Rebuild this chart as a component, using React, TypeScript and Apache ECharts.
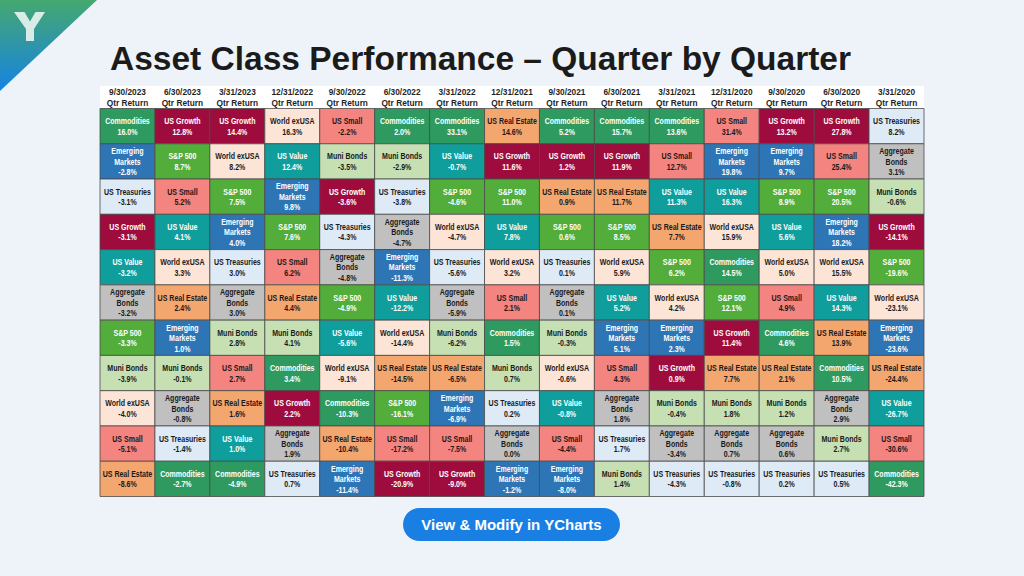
import React, { useEffect, useRef } from "react";
import * as echarts from "echarts";

// ---------- DATA ----------
const quarters = [
  "9/30/2023", "6/30/2023", "3/31/2023", "12/31/2022", "9/30/2022",
  "6/30/2022", "3/31/2022", "12/31/2021", "9/30/2021", "6/30/2021",
  "3/31/2021", "12/31/2020", "9/30/2020", "6/30/2020", "3/31/2020",
];
const ranks = ["1", "2", "3", "4", "5", "6", "7", "8", "9", "10", "11"];

const names_2023_09 = ["Commodities", "Emerging Markets", "US Treasuries", "US Growth", "US Value", "Aggregate Bonds", "S&P 500", "Muni Bonds", "World exUSA", "US Small", "US Real Estate"];
const returns_2023_09 = [16.0, -2.8, -3.1, -3.1, -3.2, -3.2, -3.3, -3.9, -4.0, -5.1, -8.6];

const names_2023_06 = ["US Growth", "S&P 500", "US Small", "US Value", "World exUSA", "US Real Estate", "Emerging Markets", "Muni Bonds", "Aggregate Bonds", "US Treasuries", "Commodities"];
const returns_2023_06 = [12.8, 8.7, 5.2, 4.1, 3.3, 2.4, 1.0, -0.1, -0.8, -1.4, -2.7];

const names_2023_03 = ["US Growth", "World exUSA", "S&P 500", "Emerging Markets", "US Treasuries", "Aggregate Bonds", "Muni Bonds", "US Small", "US Real Estate", "US Value", "Commodities"];
const returns_2023_03 = [14.4, 8.2, 7.5, 4.0, 3.0, 3.0, 2.8, 2.7, 1.6, 1.0, -4.9];

const names_2022_12 = ["World exUSA", "US Value", "Emerging Markets", "S&P 500", "US Small", "US Real Estate", "Muni Bonds", "Commodities", "US Growth", "Aggregate Bonds", "US Treasuries"];
const returns_2022_12 = [16.3, 12.4, 9.8, 7.6, 6.2, 4.4, 4.1, 3.4, 2.2, 1.9, 0.7];

const names_2022_09 = ["US Small", "Muni Bonds", "US Growth", "US Treasuries", "Aggregate Bonds", "S&P 500", "US Value", "World exUSA", "Commodities", "US Real Estate", "Emerging Markets"];
const returns_2022_09 = [-2.2, -3.5, -3.6, -4.3, -4.8, -4.9, -5.6, -9.1, -10.3, -10.4, -11.4];

const names_2022_06 = ["Commodities", "Muni Bonds", "US Treasuries", "Aggregate Bonds", "Emerging Markets", "US Value", "World exUSA", "US Real Estate", "S&P 500", "US Small", "US Growth"];
const returns_2022_06 = [2.0, -2.9, -3.8, -4.7, -11.3, -12.2, -14.4, -14.5, -16.1, -17.2, -20.9];

const names_2022_03 = ["Commodities", "US Value", "S&P 500", "World exUSA", "US Treasuries", "Aggregate Bonds", "Muni Bonds", "US Real Estate", "Emerging Markets", "US Small", "US Growth"];
const returns_2022_03 = [33.1, -0.7, -4.6, -4.7, -5.6, -5.9, -6.2, -6.5, -6.9, -7.5, -9.0];

const names_2021_12 = ["US Real Estate", "US Growth", "S&P 500", "US Value", "World exUSA", "US Small", "Commodities", "Muni Bonds", "US Treasuries", "Aggregate Bonds", "Emerging Markets"];
const returns_2021_12 = [14.6, 11.6, 11.0, 7.8, 3.2, 2.1, 1.5, 0.7, 0.2, 0.0, -1.2];

const names_2021_09 = ["Commodities", "US Growth", "US Real Estate", "S&P 500", "US Treasuries", "Aggregate Bonds", "Muni Bonds", "World exUSA", "US Value", "US Small", "Emerging Markets"];
const returns_2021_09 = [5.2, 1.2, 0.9, 0.6, 0.1, 0.1, -0.3, -0.6, -0.8, -4.4, -8.0];

const names_2021_06 = ["Commodities", "US Growth", "US Real Estate", "S&P 500", "World exUSA", "US Value", "Emerging Markets", "US Small", "Aggregate Bonds", "US Treasuries", "Muni Bonds"];
const returns_2021_06 = [15.7, 11.9, 11.7, 8.5, 5.9, 5.2, 5.1, 4.3, 1.8, 1.7, 1.4];

const names_2021_03 = ["Commodities", "US Small", "US Value", "US Real Estate", "S&P 500", "World exUSA", "Emerging Markets", "US Growth", "Muni Bonds", "Aggregate Bonds", "US Treasuries"];
const returns_2021_03 = [13.6, 12.7, 11.3, 7.7, 6.2, 4.2, 2.3, 0.9, -0.4, -3.4, -4.3];

const names_2020_12 = ["US Small", "Emerging Markets", "US Value", "World exUSA", "Commodities", "S&P 500", "US Growth", "US Real Estate", "Muni Bonds", "Aggregate Bonds", "US Treasuries"];
const returns_2020_12 = [31.4, 19.8, 16.3, 15.9, 14.5, 12.1, 11.4, 7.7, 1.8, 0.7, -0.8];

const names_2020_09 = ["US Growth", "Emerging Markets", "S&P 500", "US Value", "World exUSA", "US Small", "Commodities", "US Real Estate", "Muni Bonds", "Aggregate Bonds", "US Treasuries"];
const returns_2020_09 = [13.2, 9.7, 8.9, 5.6, 5.0, 4.9, 4.6, 2.1, 1.2, 0.6, 0.2];

const names_2020_06 = ["US Growth", "US Small", "S&P 500", "Emerging Markets", "World exUSA", "US Value", "US Real Estate", "Commodities", "Aggregate Bonds", "Muni Bonds", "US Treasuries"];
const returns_2020_06 = [27.8, 25.4, 20.5, 18.2, 15.5, 14.3, 13.9, 10.5, 2.9, 2.7, 0.5];

const names_2020_03 = ["US Treasuries", "Aggregate Bonds", "Muni Bonds", "US Growth", "S&P 500", "World exUSA", "Emerging Markets", "US Real Estate", "US Value", "US Small", "Commodities"];
const returns_2020_03 = [8.2, 3.1, -0.6, -14.1, -19.6, -23.1, -23.6, -24.4, -26.7, -30.6, -42.3];

const columnNames = [
  names_2023_09, names_2023_06, names_2023_03, names_2022_12, names_2022_09,
  names_2022_06, names_2022_03, names_2021_12, names_2021_09, names_2021_06,
  names_2021_03, names_2020_12, names_2020_09, names_2020_06, names_2020_03,
];
const columnReturns = [
  returns_2023_09, returns_2023_06, returns_2023_03, returns_2022_12, returns_2022_09,
  returns_2022_06, returns_2022_03, returns_2021_12, returns_2021_09, returns_2021_06,
  returns_2021_03, returns_2020_12, returns_2020_09, returns_2020_06, returns_2020_03,
];

// ---------- STYLE ----------
const assetFill: Record<string, string> = {
  "Commodities": "#2f9a5f",
  "US Growth": "#9e0b3d",
  "US Small": "#f4847f",
  "World exUSA": "#fce4d6",
  "Emerging Markets": "#2e75b6",
  "S&P 500": "#52ad3b",
  "US Value": "#0f9e9b",
  "Muni Bonds": "#c6e0b4",
  "US Treasuries": "#deebf7",
  "Aggregate Bonds": "#c0c0c0",
  "US Real Estate": "#f4a66f",
};
const lightText = new Set(["Commodities", "US Growth", "Emerging Markets", "S&P 500", "US Value"]);
const displayName: Record<string, string> = {
  "Emerging Markets": "Emerging\nMarkets",
  "Aggregate Bonds": "Aggregate\nBonds",
};
const SANS = "'Liberation Sans',Arial,sans-serif";

export default function App() {
  const ref = useRef<HTMLDivElement>(null);

  useEffect(() => {
    if (!ref.current) return;
    const chart = echarts.init(ref.current, null, { renderer: "svg" });

    const cells: { x: number; y: number; name: string; ret: number }[] = [];
    columnNames.forEach((col, ci) => {
      col.forEach((name, ri) => {
        cells.push({ x: ci, y: ri, name, ret: columnReturns[ci][ri] });
      });
    });

    const option: any = {
      animation: false,
      backgroundColor: "#eef3fa",
      grid: { left: 100, top: 108.5, width: 824, height: 388 },
      xAxis: {
        type: "category",
        data: quarters,
        position: "top",
        axisLine: { show: false },
        axisTick: { show: false },
        splitLine: { show: false },
        axisLabel: {
          interval: 0,
          margin: 0.5,
          formatter: (v: string) => `${v}\nQtr Return`,
          fontSize: 8.3,
          fontWeight: "bold",
          fontFamily: SANS,
          color: "#1f1f1f",
          lineHeight: 11,
        },
      },
      yAxis: {
        type: "category",
        data: ranks,
        inverse: true,
        show: false,
      },
      series: [
        {
          type: "custom",
          data: cells.map((c) => [c.x, c.y]),
          renderItem: (params: any, api: any) => {
            const cell = cells[params.dataIndex];
            const p = api.coord([api.value(0), api.value(1)]);
            const s = api.size([1, 1]);
            const fill = assetFill[cell.name];
            const txt = lightText.has(cell.name) ? "#ffffff" : "#1a1a1a";
            const label = `${displayName[cell.name] || cell.name}\n${cell.ret.toFixed(1)}%`;
            return {
              type: "group",
              children: [
                {
                  type: "rect",
                  shape: { x: p[0] - s[0] / 2, y: p[1] - s[1] / 2, width: s[0], height: s[1] },
                  style: { fill, stroke: "#4a4a4a", lineWidth: 0.8 },
                },
                {
                  type: "text",
                  x: p[0],
                  y: p[1] + 0.5,
                  scaleX: 0.8,
                  style: {
                    text: label,
                    fill: txt,
                    fontSize: 8.8,
                    fontWeight: "bold",
                    fontFamily: SANS,
                    align: "center",
                    verticalAlign: "middle",
                    lineHeight: 10.5,
                  },
                },
              ],
            };
          },
        },
      ],
      graphic: [
        {
          type: "polygon",
          z: -1,
          shape: { points: [[0, 0], [97, 0], [0, 91]] },
          style: {
            fill: {
              type: "linear", x: 0, y: 0, x2: 0, y2: 1,
              colorStops: [
                { offset: 0, color: "#45a86f" },
                { offset: 1, color: "#1683e3" },
              ],
            },
          },
        },
        {
          type: "polygon",
          shape: {
            points: [[14, 12], [24.5, 12], [30, 21.5], [35.5, 12], [45, 12], [34, 29], [34, 41], [26, 41], [26, 29]],
          },
          style: { fill: "#eaf4f1", opacity: 0.9 },
        },
        {
          type: "text",
          left: 110,
          top: 41,
          style: {
            text: "Asset Class Performance \u2013 Quarter by Quarter",
            fontSize: 33.5,
            fontWeight: "bold",
            fontFamily: SANS,
            fill: "#1b1b1b",
          },
        },
        {
          type: "rect",
          z: -1,
          shape: { x: 100, y: 86, width: 824, height: 23 },
          style: { fill: "#ffffff" },
        },
        {
          type: "rect",
          shape: { x: 403, y: 508, width: 217, height: 33, r: 16.5 },
          style: { fill: "#1a7fe3" },
        },
        {
          type: "text",
          x: 511.5,
          y: 524.5,
          style: {
            text: "View & Modify in YCharts",
            fontSize: 15,
            fontWeight: "bold",
            fontFamily: SANS,
            fill: "#ffffff",
            align: "center",
            verticalAlign: "middle",
          },
        },
      ],
    };

    chart.setOption(option);
    return () => chart.dispose();
  }, []);

  return (
    <div
      ref={ref}
      style={{ position: "fixed", left: 0, top: 0, width: 1024, height: 576 }}
    />
  );
}
